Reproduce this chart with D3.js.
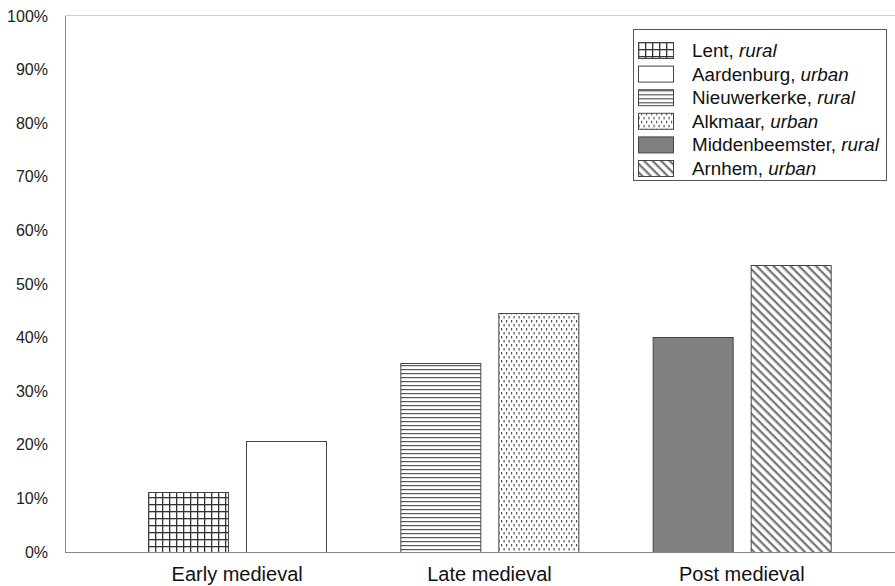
<!DOCTYPE html>
<html><head><meta charset="utf-8">
<script src="https://cdn.jsdelivr.net/npm/d3@7"></script>
<style>body{margin:0;background:#fff}svg{display:block}text{font-family:"Liberation Sans",Arial,sans-serif}</style>
</head><body><div id="chart"></div>
<script>
const categories = ["Early medieval","Late medieval","Post medieval"];
const seriesNames = ["Lent","Aardenburg","Nieuwerkerke","Alkmaar","Middenbeemster","Arnhem"];
const seriesTypes = ["rural","urban","rural","urban","rural","urban"];
const seriesCategory = ["Early medieval","Early medieval","Late medieval","Late medieval","Post medieval","Post medieval"];
const seriesSlot = [0,1,0,1,0,1];
const values = [11.2,20.7,35.3,44.6,40.1,53.5];
const yTicks = [0,10,20,30,40,50,60,70,80,90,100];
const patternIds = ["grid","none","hlines","dots","solid","diag"];

const W=895,H=586;
const svg=d3.select("#chart").append("svg").attr("width",W).attr("height",H);
const defs=svg.append("defs");
// grid
let p=defs.append("pattern").attr("id","grid").attr("patternUnits","userSpaceOnUse").attr("width",7).attr("height",7).attr("x",148).attr("y",0);
p.append("rect").attr("width",7).attr("height",7).attr("fill","#fff");
p.append("rect").attr("x",0).attr("y",0).attr("width",1.3).attr("height",7).attr("fill","#333");
p.append("rect").attr("x",0).attr("y",0).attr("width",7).attr("height",1.3).attr("fill","#333");
// horizontal lines
p=defs.append("pattern").attr("id","hlines").attr("patternUnits","userSpaceOnUse").attr("width",8).attr("height",4);
p.append("rect").attr("width",8).attr("height",4).attr("fill","#fff");
p.append("rect").attr("y",1).attr("width",8).attr("height",1.2).attr("fill","#555");
// dots (vertical dashes)
p=defs.append("pattern").attr("id","dots").attr("patternUnits","userSpaceOnUse").attr("width",5).attr("height",8);
p.append("rect").attr("width",5).attr("height",8).attr("fill","#fff");
p.append("rect").attr("x",1).attr("y",0).attr("width",1.2).attr("height",2.5).attr("fill","#555");
p.append("rect").attr("x",3.5).attr("y",4).attr("width",1.2).attr("height",2.5).attr("fill","#555");
// diagonal (top-left to bottom-right)
p=defs.append("pattern").attr("id","diag").attr("patternUnits","userSpaceOnUse").attr("width",6).attr("height",6).attr("patternTransform","rotate(45)");
p.append("rect").attr("width",6).attr("height",6).attr("fill","#fff");
p.append("rect").attr("x",0).attr("y",0).attr("width",6).attr("height",2.3).attr("fill","#777");

function fillFor(id){ if(id==="none") return "#fff"; if(id==="solid") return "#808080"; return "url(#"+id+")"; }

const x=d3.scaleBand().domain(categories).range([111,868]);
const xi=d3.scaleBand().domain([0,1]).range([37,215]).paddingInner(18/98);
const y=d3.scaleLinear().domain([0,100]).range([552,16]);

// frame lines
svg.append("line").attr("x1",65).attr("x2",W).attr("y1",15.5).attr("y2",15.5).attr("stroke","#cfcfcf");
svg.append("line").attr("x1",65.5).attr("x2",65.5).attr("y1",y(100)).attr("y2",y(0)).attr("stroke","#888");

// y labels
svg.append("g").selectAll("text").data(yTicks).join("text")
  .attr("x",48).attr("y",d=>y(d)).attr("dy","0.35em").attr("text-anchor","end")
  .attr("font-size",16).attr("fill","#222").text(d=>d+"%");

// bars
svg.append("g").selectAll("rect").data(values).join("rect")
  .attr("x",(d,i)=>x(seriesCategory[i])+xi(seriesSlot[i])+0.5)
  .attr("y",d=>Math.round(y(d))+0.5)
  .attr("width",xi.bandwidth())
  .attr("height",d=>y(0)-Math.round(y(d)))
  .attr("fill",(d,i)=>fillFor(patternIds[i]))
  .attr("stroke","#444").attr("stroke-width",1);

svg.append("line").attr("x1",65).attr("x2",W).attr("y1",552.5).attr("y2",552.5).attr("stroke","#888");

// x labels
svg.append("g").selectAll("text").data(categories).join("text")
  .attr("x",d=>x(d)+x.bandwidth()/2).attr("y",581).attr("text-anchor","middle")
  .attr("font-size",20).attr("fill","#111").text(d=>d);

// legend
const lg=svg.append("g");
lg.append("rect").attr("x",633.5).attr("y",29.5).attr("width",253).attr("height",151).attr("fill","#fff").attr("stroke","#555");
const rows=lg.selectAll("g").data(seriesNames).join("g").attr("transform",(d,i)=>`translate(0,${42+i*23.6})`);
rows.append("rect").attr("x",638.5).attr("y",0.5).attr("width",35).attr("height",16)
  .attr("fill",(d,i)=>fillFor(patternIds[i])).attr("stroke","#444");
const t=rows.append("text").attr("x",692).attr("y",8.5).attr("dy","0.35em").attr("font-size",18.8).attr("fill","#111");
t.append("tspan").text(d=>d+", ");
t.append("tspan").attr("font-style","italic").text((d,i)=>seriesTypes[i]);
</script></body></html>
